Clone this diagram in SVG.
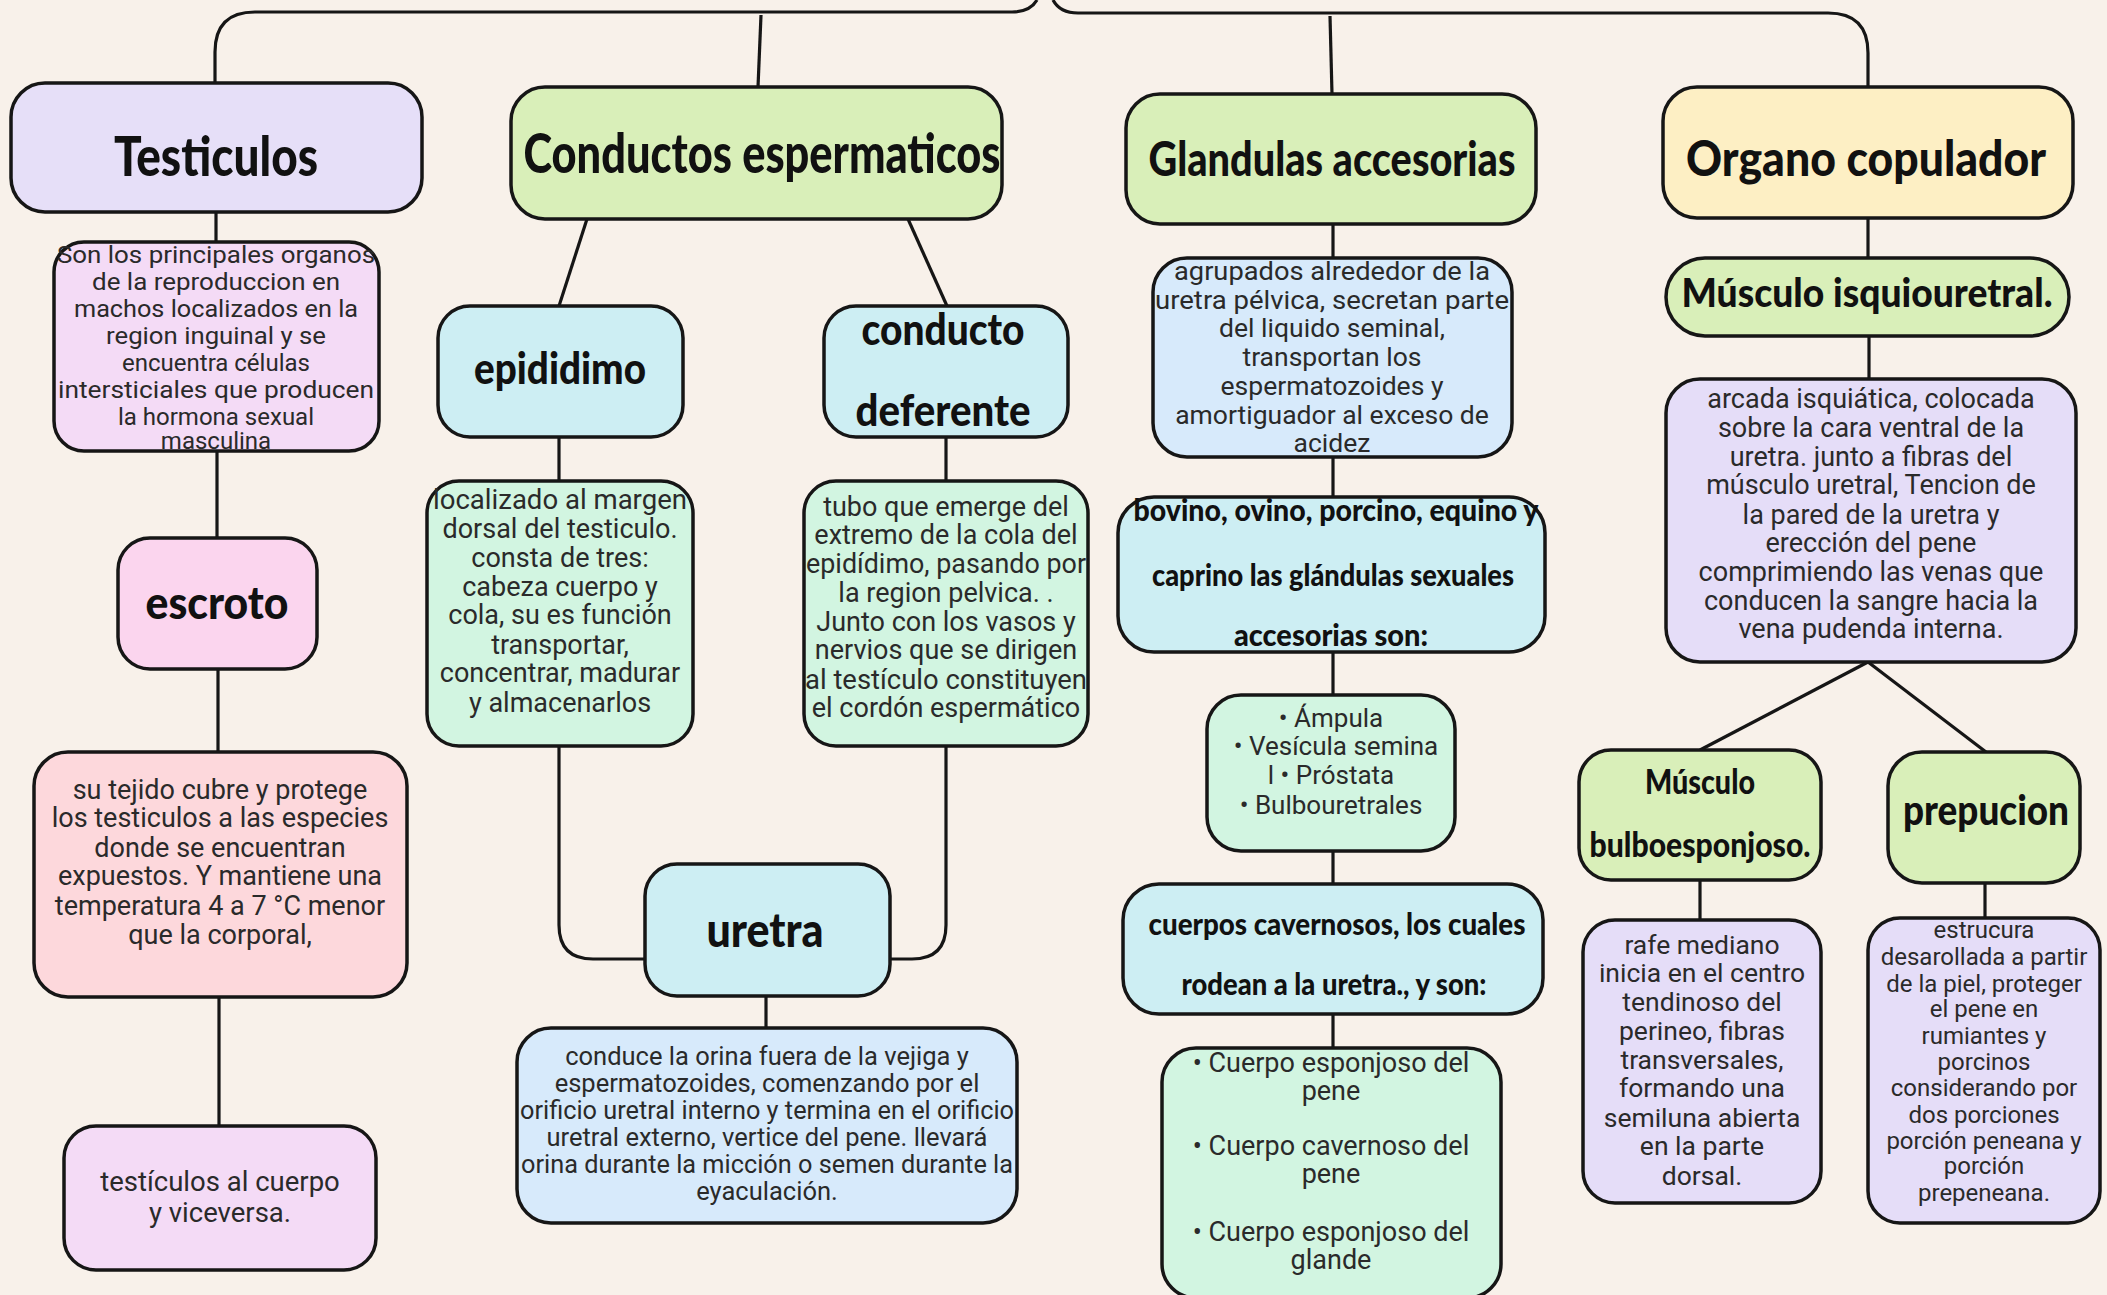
<svg xmlns="http://www.w3.org/2000/svg" width="2107" height="1295" viewBox="0 0 2107 1295">
<style>
.box{stroke:#161616;stroke-width:3.5}
.lav{fill:#e6dff8}.pk{fill:#f4dbf6}.esc{fill:#fbd5ee}.sal{fill:#fdd8dc}
.grn{fill:#d9efb9}.cy{fill:#cdeef3}.mint{fill:#d2f5e1}.lb{fill:#d7eafb}.yel{fill:#fdefc4}.vio{fill:#e5ddf8}
.h{font-family:"Lato","Open Sans",sans-serif;font-weight:900;fill:#111;text-anchor:middle}
.t{font-family:"Roboto","Liberation Sans",sans-serif;font-size:25px;fill:#2a2a2a;text-anchor:middle}
.c{fill:none;stroke:#161616;stroke-width:3.2}
</style>
<rect width="2107" height="1295" fill="#f8f1ea"/>
<g id="connectors">
<path class="c" d="M215 83 V52 Q215 12 255 12 H1012 Q1030 12 1037 0"/>
<path class="c" d="M1053 0 Q1060 13 1078 13 H1828 Q1868 13 1868 53 V87"/>
<path class="c" d="M761 15 L758 87"/>
<path class="c" d="M1330 16 L1332 94"/>
<path class="c" d="M216 212 V242"/>
<path class="c" d="M217 451 V538"/>
<path class="c" d="M218 669 V752"/>
<path class="c" d="M219 997 V1126"/>
<path class="c" d="M587 219 L559 306"/>
<path class="c" d="M908 219 L947 306"/>
<path class="c" d="M559 437 V481"/>
<path class="c" d="M946 437 V481"/>
<path class="c" d="M559 746 V925 Q559 959 593 959 H645"/>
<path class="c" d="M946 746 V925 Q946 959 912 959 H890"/>
<path class="c" d="M766 996 V1028"/>
<path class="c" d="M1333 224 V258"/>
<path class="c" d="M1333 457 V497"/>
<path class="c" d="M1333 652 V695"/>
<path class="c" d="M1333 851 V884"/>
<path class="c" d="M1333 1014 V1048"/>
<path class="c" d="M1868 218 V258"/>
<path class="c" d="M1869 336 V379"/>
<path class="c" d="M1868 662 L1700 750"/>
<path class="c" d="M1868 662 L1986 752"/>
<path class="c" d="M1700 880 V920"/>
<path class="c" d="M1985 883 V918"/>
</g>
<g id="testiculos"><rect class="box lav" x="11" y="83" width="411" height="129" rx="34"/><text class="h" x="216" y="176" font-size="56" textLength="204" lengthAdjust="spacingAndGlyphs">Testiculos</text></g>
<g id="conductos"><rect class="box grn" x="511" y="87" width="491" height="132" rx="34"/><text class="h" x="762" y="173" font-size="56" textLength="477" lengthAdjust="spacingAndGlyphs">Conductos espermaticos</text></g>
<g id="glandulas"><rect class="box grn" x="1126" y="94" width="410" height="130" rx="34"/><text class="h" x="1332" y="176" font-size="48" textLength="367" lengthAdjust="spacingAndGlyphs">Glandulas accesorias</text></g>
<g id="organo"><rect class="box yel" x="1663" y="87" width="410" height="131" rx="34"/><text class="h" x="1866" y="176" font-size="50" textLength="360" lengthAdjust="spacingAndGlyphs">Organo copulador</text></g>
<g id="testiculos-desc"><rect class="box pk" x="54" y="242" width="325" height="209" rx="30"/>
<text class="t" style="font-size:24px"><tspan x="216" y="263" textLength="318" lengthAdjust="spacingAndGlyphs">Son los principales organos</tspan><tspan x="216" y="290" textLength="248" lengthAdjust="spacingAndGlyphs">de la reproduccion en</tspan><tspan x="216" y="317" textLength="284" lengthAdjust="spacingAndGlyphs">machos localizados en la</tspan><tspan x="216" y="344" textLength="220" lengthAdjust="spacingAndGlyphs">region inguinal y se</tspan><tspan x="216" y="371">encuentra células</tspan><tspan x="216" y="398" textLength="316" lengthAdjust="spacingAndGlyphs">intersticiales que producen</tspan><tspan x="216" y="425">la hormona sexual</tspan><tspan x="216" y="449">masculina</tspan></text></g>
<g id="escroto"><rect class="box esc" x="118" y="538" width="199" height="131" rx="32"/><text class="h" x="217" y="619" font-size="46" textLength="143" lengthAdjust="spacingAndGlyphs">escroto</text></g>
<g id="escroto-desc"><rect class="box sal" x="34" y="752" width="373" height="245" rx="34"/>
<text class="t" style="font-size:27px"><tspan x="220" y="799">su tejido cubre y protege</tspan><tspan x="220" y="827">los testiculos a las especies</tspan><tspan x="220" y="857">donde se encuentran</tspan><tspan x="220" y="885">expuestos. Y mantiene una</tspan><tspan x="220" y="915">temperatura 4 a 7 °C menor</tspan><tspan x="220" y="944">que la corporal,</tspan></text></g>
<g id="testiculos-cuerpo"><rect class="box pk" x="64" y="1126" width="312" height="144" rx="32"/>
<text class="t" style="font-size:27.5px"><tspan x="220" y="1191">testículos al cuerpo</tspan><tspan x="220" y="1222">y viceversa.</tspan></text></g>
<g id="epididimo"><rect class="box cy" x="438" y="306" width="245" height="131" rx="32"/><text class="h" x="560" y="384" font-size="44" textLength="172" lengthAdjust="spacingAndGlyphs">epididimo</text></g>
<g id="conducto-deferente"><rect class="box cy" x="824" y="306" width="244" height="131" rx="32"/><text class="h" x="943" y="345" font-size="44" textLength="163" lengthAdjust="spacingAndGlyphs">conducto</text><text class="h" x="943" y="426" font-size="44" textLength="175" lengthAdjust="spacingAndGlyphs">deferente</text></g>
<g id="epididimo-desc"><rect class="box mint" x="427" y="481" width="266" height="265" rx="32"/>
<text class="t" style="font-size:27px"><tspan x="560" y="509" textLength="254" lengthAdjust="spacingAndGlyphs">localizado al margen</tspan><tspan x="560" y="538">dorsal del testiculo.</tspan><tspan x="560" y="567">consta de tres:</tspan><tspan x="560" y="596">cabeza cuerpo y</tspan><tspan x="560" y="624">cola, su es función</tspan><tspan x="560" y="654">transportar,</tspan><tspan x="560" y="682">concentrar, madurar</tspan><tspan x="560" y="712">y almacenarlos</tspan></text></g>
<g id="conducto-desc"><rect class="box mint" x="804" y="481" width="284" height="265" rx="32"/>
<text class="t" style="font-size:27px"><tspan x="946" y="516">tubo que emerge del</tspan><tspan x="946" y="544">extremo de la cola del</tspan><tspan x="946" y="573" textLength="280" lengthAdjust="spacingAndGlyphs">epidídimo, pasando por</tspan><tspan x="946" y="602">la region pelvica. .</tspan><tspan x="946" y="631">Junto con los vasos y</tspan><tspan x="946" y="659">nervios que se dirigen</tspan><tspan x="946" y="689" textLength="282" lengthAdjust="spacingAndGlyphs">al testículo constituyen</tspan><tspan x="946" y="717">el cordón espermático</tspan></text></g>
<g id="uretra"><rect class="box cy" x="645" y="864" width="245" height="132" rx="32"/><text class="h" x="765" y="947" font-size="48" textLength="117" lengthAdjust="spacingAndGlyphs">uretra</text></g>
<g id="uretra-desc"><rect class="box lb" x="517" y="1028" width="500" height="195" rx="34"/>
<text class="t" style="font-size:25.5px"><tspan x="767" y="1065">conduce la orina fuera de la vejiga y</tspan><tspan x="767" y="1092">espermatozoides, comenzando por el</tspan><tspan x="767" y="1119" textLength="494" lengthAdjust="spacingAndGlyphs">orificio uretral interno y termina en el orificio</tspan><tspan x="767" y="1146">uretral externo, vertice del pene. llevará</tspan><tspan x="767" y="1173" textLength="492" lengthAdjust="spacingAndGlyphs">orina durante la micción o semen durante la</tspan><tspan x="767" y="1200">eyaculación.</tspan></text></g>
<g id="glandulas-desc"><rect class="box lb" x="1153" y="258" width="359" height="199" rx="34"/>
<text class="t" style="font-size:26.5px"><tspan x="1332" y="280" textLength="316" lengthAdjust="spacingAndGlyphs">agrupados alrededor de la</tspan><tspan x="1332" y="309" textLength="354" lengthAdjust="spacingAndGlyphs">uretra pélvica, secretan parte</tspan><tspan x="1332" y="337">del liquido seminal,</tspan><tspan x="1332" y="366">transportan los</tspan><tspan x="1332" y="395">espermatozoides y</tspan><tspan x="1332" y="424">amortiguador al exceso de</tspan><tspan x="1332" y="452">acidez</tspan></text></g>
<g id="especies"><rect class="box cy" x="1118" y="497" width="427" height="155" rx="36"/>
<text class="h" x="1336" y="521" font-size="30" textLength="405" lengthAdjust="spacingAndGlyphs">bovino, ovino, porcino, equino y</text><text class="h" x="1333" y="586" font-size="30" textLength="362" lengthAdjust="spacingAndGlyphs">caprino las glándulas sexuales</text><text class="h" x="1331" y="646" font-size="30" textLength="194" lengthAdjust="spacingAndGlyphs">accesorias son:</text></g>
<g id="glandulas-lista"><rect class="box mint" x="1207" y="695" width="248" height="156" rx="34"/>
<text class="t" style="font-size:26px"><tspan x="1331" y="727">• Ámpula</tspan><tspan x="1336" y="755">• Vesícula semina</tspan><tspan x="1331" y="784">l • Próstata</tspan><tspan x="1331" y="814">• Bulbouretrales</tspan></text></g>
<g id="cuerpos-cavernosos"><rect class="box cy" x="1123" y="884" width="420" height="130" rx="36"/>
<text class="h" x="1337" y="935" font-size="30" textLength="377" lengthAdjust="spacingAndGlyphs">cuerpos cavernosos, los cuales</text><text class="h" x="1334" y="995" font-size="30" textLength="305" lengthAdjust="spacingAndGlyphs">rodean a la uretra., y son:</text></g>
<g id="cuerpos-lista"><rect class="box mint" x="1162" y="1048" width="339" height="250" rx="34"/>
<text class="t" style="font-size:27px"><tspan x="1331" y="1072">• Cuerpo esponjoso del</tspan><tspan x="1331" y="1100">pene</tspan><tspan x="1331" y="1155">• Cuerpo cavernoso del</tspan><tspan x="1331" y="1183">pene</tspan><tspan x="1331" y="1241">• Cuerpo esponjoso del</tspan><tspan x="1331" y="1269">glande</tspan></text></g>
<g id="isquiouretral"><rect class="box grn" x="1666" y="258" width="403" height="78" rx="39"/><text class="h" x="1867" y="307" font-size="40" textLength="371" lengthAdjust="spacingAndGlyphs">Músculo isquiouretral.</text></g>
<g id="isquiouretral-desc"><rect class="box vio" x="1666" y="379" width="410" height="283" rx="34"/>
<text class="t" style="font-size:27px"><tspan x="1871" y="408">arcada isquiática, colocada</tspan><tspan x="1871" y="437">sobre la cara ventral de la</tspan><tspan x="1871" y="466">uretra. junto a fibras del</tspan><tspan x="1871" y="494">músculo uretral, Tencion de</tspan><tspan x="1871" y="524">la pared de la uretra y</tspan><tspan x="1871" y="552">erección del pene</tspan><tspan x="1871" y="581">comprimiendo las venas que</tspan><tspan x="1871" y="610">conducen la sangre hacia la</tspan><tspan x="1871" y="638">vena pudenda interna.</tspan></text></g>
<g id="bulboesponjoso"><rect class="box grn" x="1579" y="750" width="242" height="130" rx="32"/><text class="h" x="1700" y="794" font-size="34" textLength="110" lengthAdjust="spacingAndGlyphs">Músculo</text><text class="h" x="1700" y="857" font-size="34" textLength="221" lengthAdjust="spacingAndGlyphs">bulboesponjoso.</text></g>
<g id="prepucion"><rect class="box grn" x="1888" y="752" width="192" height="131" rx="34"/><text class="h" x="1986" y="825" font-size="42" textLength="166" lengthAdjust="spacingAndGlyphs">prepucion</text></g>
<g id="bulbo-desc"><rect class="box vio" x="1583" y="920" width="238" height="283" rx="32"/>
<text class="t" style="font-size:26.5px"><tspan x="1702" y="954">rafe mediano</tspan><tspan x="1702" y="982">inicia en el centro</tspan><tspan x="1702" y="1011">tendinoso del</tspan><tspan x="1702" y="1040">perineo, fibras</tspan><tspan x="1702" y="1069">transversales,</tspan><tspan x="1702" y="1097">formando una</tspan><tspan x="1702" y="1127">semiluna abierta</tspan><tspan x="1702" y="1155">en la parte</tspan><tspan x="1702" y="1185">dorsal.</tspan></text></g>
<g id="prepucion-desc"><rect class="box vio" x="1868" y="918" width="232" height="305" rx="32"/>
<text class="t" style="font-size:24px"><tspan x="1984" y="938">estrucura</tspan><tspan x="1984" y="965">desarollada a partir</tspan><tspan x="1984" y="992">de la piel, proteger</tspan><tspan x="1984" y="1017">el pene en</tspan><tspan x="1984" y="1044">rumiantes y</tspan><tspan x="1984" y="1070">porcinos</tspan><tspan x="1984" y="1096">considerando por</tspan><tspan x="1984" y="1123">dos porciones</tspan><tspan x="1984" y="1149">porción peneana y</tspan><tspan x="1984" y="1174">porción</tspan><tspan x="1984" y="1201">prepeneana.</tspan></text></g>
</svg>
